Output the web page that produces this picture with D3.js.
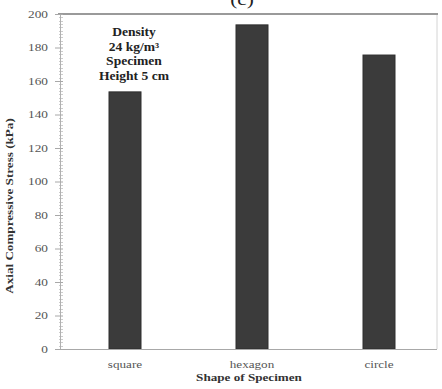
<!DOCTYPE html>
<html>
<head>
<meta charset="utf-8">
<script src="https://cdn.jsdelivr.net/npm/d3@7"></script>
<style>
  html, body { margin: 0; padding: 0; background: #fff; }
  svg { display: block; }
  svg text { font-family: "Liberation Serif", "Times New Roman", "DejaVu Serif", serif; }
</style>
</head>
<body>
<svg id="chart" width="442" height="389"></svg>
<script>
// Axial compressive stress by specimen shape
const categories = ["square", "hexagon", "circle"];
const stressValues = [153.5, 193.5, 175.5];
const yTickValues = [0, 20, 40, 60, 80, 100, 120, 140, 160, 180, 200];
const noteLines = ["Density", "24 kg/m\u00B3", "Specimen", "Height 5 cm"];

const serif = "'Liberation Serif', 'Times New Roman', 'DejaVu Serif', serif";
const svg = d3.select("#chart");
const plotLeft = 60, plotRight = 437, plotTop = 14, plotBottom = 349;

const x = d3.scalePoint().domain(categories).range([125, 379]);
const y = d3.scaleLinear().domain([0, 200]).range([plotBottom, plotTop]);
const barWidth = 32;

// the figure's lettering is set wide: stretch each text horizontally
function widen(selection, factor) {
  selection.each(function () {
    const w = this.getComputedTextLength();
    d3.select(this)
      .attr("textLength", w * factor)
      .attr("lengthAdjust", "spacingAndGlyphs");
  });
}

// chart title, partly above the page edge
svg.append("text")
  .attr("x", 242).attr("y", 5)
  .attr("text-anchor", "middle")
  .attr("font-family", serif)
  .attr("font-size", 17)
  .attr("fill", "#222")
  .text("(c)")
  .call(widen, 1.25);

// frame: right border and heavy top rule
svg.append("line")
  .attr("x1", plotRight).attr("x2", plotRight).attr("y1", plotTop).attr("y2", plotBottom)
  .attr("stroke", "#d4d4d4").attr("stroke-width", 1);
svg.append("line")
  .attr("x1", plotLeft - 2).attr("x2", plotRight + 1).attr("y1", plotTop).attr("y2", plotTop)
  .attr("stroke", "#9a9a9a").attr("stroke-width", 2.2);

// minor ticks on the y axis
const minor = d3.range(0, 201, 2).filter(v => v % 20 !== 0);
svg.append("g").selectAll("line").data(minor).join("line")
  .attr("x1", plotLeft - 1).attr("x2", plotLeft + 3)
  .attr("y1", d => Math.round(y(d)) + 0.5).attr("y2", d => Math.round(y(d)) + 0.5)
  .attr("stroke", "#cdcdcd").attr("stroke-width", 1);

// y axis
const yAxis = svg.append("g")
  .attr("transform", `translate(${plotLeft},0)`)
  .call(d3.axisLeft(y).tickValues(yTickValues).tickSize(4).tickPadding(8).tickFormat(d3.format("d")));
yAxis.attr("font-family", serif);
yAxis.select(".domain").attr("stroke", "#b0b0b0");
yAxis.selectAll(".tick line").attr("stroke", "#a8a8a8").attr("x2", 3).attr("x1", -5);
yAxis.selectAll(".tick text")
  .attr("font-family", serif)
  .attr("font-size", 9.5)
  .attr("fill", "#555")
  .call(widen, 1.4);

// bars
svg.append("g").selectAll("rect").data(categories).join("rect")
  .attr("x", d => x(d) - barWidth / 2)
  .attr("y", (d, i) => y(stressValues[i]))
  .attr("width", barWidth)
  .attr("height", (d, i) => y(0) - y(stressValues[i]))
  .attr("fill", "#3b3b3b")
  .attr("stroke", "#2e2e2e")
  .attr("stroke-width", 1);

// x axis baseline
svg.append("line")
  .attr("x1", plotLeft).attr("x2", plotRight).attr("y1", plotBottom + 0.5).attr("y2", plotBottom + 0.5)
  .attr("stroke", "#a8a8a8").attr("stroke-width", 1.2);

// category labels
svg.append("g").selectAll("text").data(categories).join("text")
  .attr("x", d => x(d))
  .attr("y", 368)
  .attr("text-anchor", "middle")
  .attr("font-family", serif)
  .attr("font-size", 10.5)
  .attr("fill", "#555")
  .text(d => d)
  .call(widen, 1.25);

// axis titles
svg.append("text")
  .attr("x", 249).attr("y", 381)
  .attr("text-anchor", "middle")
  .attr("font-family", serif)
  .attr("font-size", 10.5)
  .attr("font-weight", "bold")
  .attr("fill", "#333")
  .text("Shape of Specimen")
  .call(widen, 1.25);

svg.append("text")
  .attr("transform", "translate(13,206) rotate(-90)")
  .attr("text-anchor", "middle")
  .attr("font-family", serif)
  .attr("font-size", 10.5)
  .attr("font-weight", "bold")
  .attr("fill", "#333")
  .text("Axial Compressive Stress (kPa)")
  .call(widen, 1.25);

// specimen note
svg.append("g").selectAll("text").data(noteLines).join("text")
  .attr("x", 134)
  .attr("y", (d, i) => 36 + i * 14.5)
  .attr("text-anchor", "middle")
  .attr("font-family", serif)
  .attr("font-size", 12)
  .attr("font-weight", "bold")
  .attr("fill", "#222")
  .text(d => d)
  .call(widen, 1.13);
</script>
</body>
</html>
